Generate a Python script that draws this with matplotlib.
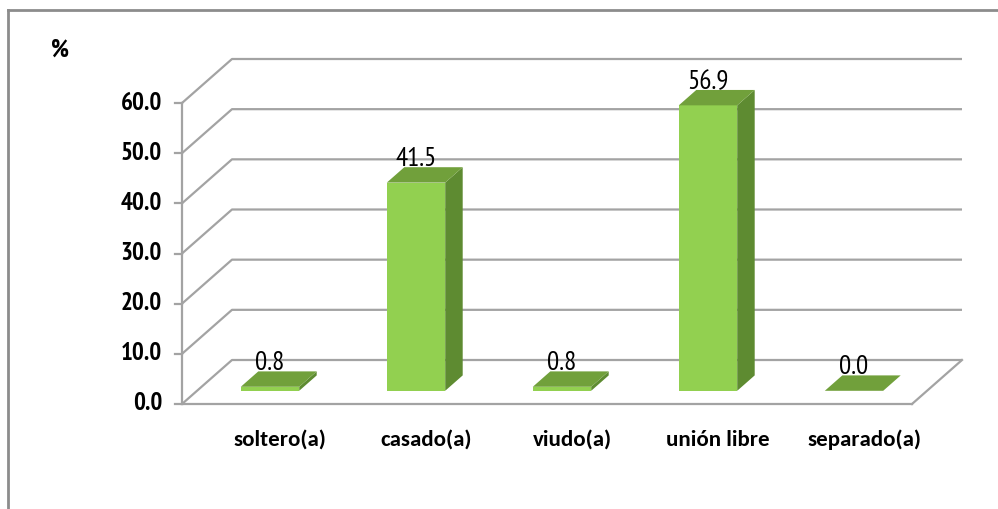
import matplotlib
matplotlib.use("Agg")
import matplotlib.pyplot as plt
from matplotlib.patches import Polygon

categories = ["soltero(a)", "casado(a)", "viudo(a)", "unión libre", "separado(a)"]
values = [0.8, 41.5, 0.8, 56.9, 0.0]
y_ticks = [0, 10, 20, 30, 40, 50, 60]
y_tick_labels = ["0.0", "10.0", "20.0", "30.0", "40.0", "50.0", "60.0"]
unit_label = "%"

NARROW = ["PT Sans Narrow", "Roboto Condensed", "DejaVu Sans"]
CAT_FONT = ["Carlito", "DejaVu Sans"]

# --- figure & oblique projection setup -------------------------------------
W, H, DPI = 998, 509, 100
fig = plt.figure(figsize=(W / DPI, H / DPI), dpi=DPI)
ax = fig.add_axes([0, 0, 1, 1])
ax.set_axis_off()

PX_CAT = 146.0            # pixels per category slot
PX_VAL = 301.0 / 60.0     # pixels per value unit
X0, Y0 = 182.0, 404.0     # front origin in pixels
ax.set_xlim(-X0 / PX_CAT, (W - X0) / PX_CAT)
ax.set_ylim((Y0 - H) / PX_VAL, Y0 / PX_VAL)

DX = 50.0 / PX_CAT        # full depth offset in category units
DY = 44.0 / PX_VAL        # full depth offset in value units
n = len(categories)
ymax = y_ticks[-1]


def proj(x, y, d):
    """Oblique projection of (category x, value y, depth d in [0,1])."""
    return x + d * DX, y + d * DY


grid_c = "#A3A3A3"
lw = 1.6

# gridlines: diagonal on the side wall + horizontal on the back wall
for v in y_ticks:
    xs = [0, proj(0, v, 1)[0], proj(n, v, 1)[0]]
    ys = [v, proj(0, v, 1)[1], proj(n, v, 1)[1]]
    ax.plot(xs, ys, color=grid_c, lw=lw, solid_capstyle="butt", zorder=1)

# floor: front and right edges
ax.plot([0, n], [0, 0], color=grid_c, lw=lw, zorder=1)
fx, fy = proj(n, 0, 1)
ax.plot([n, fx], [0, fy], color=grid_c, lw=lw, zorder=1)

# vertical value axis with tick marks
ax.plot([0, 0], [0, ymax], color=grid_c, lw=lw, zorder=1)
tick_len = 7.0 / PX_CAT
for v, lab in zip(y_ticks, y_tick_labels):
    ax.plot([-tick_len, 0], [v, v], color=grid_c, lw=lw, zorder=1)
    ax.text(-20.0 / PX_CAT, v, lab, ha="right", va="center",
            fontsize=18, fontweight="bold", family=NARROW, color="#000000")

ax.text(-122.0 / PX_CAT, (Y0 - 50) / PX_VAL, unit_label, ha="center", va="center",
        fontsize=18, fontweight="bold", family=NARROW, color="#000000")

# --- 3D-looking bars --------------------------------------------------------
front_c = "#92D050"
top_c = "#71A03B"
side_c = "#5E8B31"
half_w = 0.2
d0, d1 = 0.30, 0.65

for i, (cat, val) in enumerate(zip(categories, values)):
    cx = i + 0.5
    xl, xr = cx - half_w, cx + half_w
    fbl = proj(xl, 0, d0); fbr = proj(xr, 0, d0)
    ftl = proj(xl, val, d0); ftr = proj(xr, val, d0)
    bbr = proj(xr, 0, d1)
    btl = proj(xl, val, d1); btr = proj(xr, val, d1)
    if val > 0:
        ax.add_patch(Polygon([fbl, fbr, ftr, ftl], closed=True,
                             facecolor=front_c, edgecolor="none", zorder=3))
        ax.add_patch(Polygon([fbr, bbr, btr, ftr], closed=True,
                             facecolor=side_c, edgecolor="none", zorder=3))
    ax.add_patch(Polygon([ftl, ftr, btr, btl], closed=True,
                         facecolor=top_c, edgecolor="none", zorder=4))
    # value label just above the back edge of the bar top
    lx, ly = proj(cx, val, d1)
    ax.text(proj(cx, 0, d0)[0], ly + 1.0 / PX_VAL, f"{val:.1f}",
            ha="center", va="baseline", fontsize=19.5, family=NARROW,
            color="#000000", zorder=5)
    # category label
    ax.text(proj(cx, 0, 0.5)[0], (Y0 - 440) / PX_VAL, cat, ha="center",
            va="center", fontsize=16.5, fontweight="bold", family=CAT_FONT,
            color="#000000")

# chart frame (top and left edges visible)
fr_c = "#8C8C8C"
ax.plot([(8 - X0) / PX_CAT, (W - X0) / PX_CAT], [(Y0 - 10) / PX_VAL] * 2,
        color=fr_c, lw=2, zorder=1)
ax.plot([(8 - X0) / PX_CAT] * 2, [(Y0 - 10) / PX_VAL, (Y0 - H) / PX_VAL],
        color=fr_c, lw=2, zorder=1)

fig.savefig("out.png", dpi=DPI)
